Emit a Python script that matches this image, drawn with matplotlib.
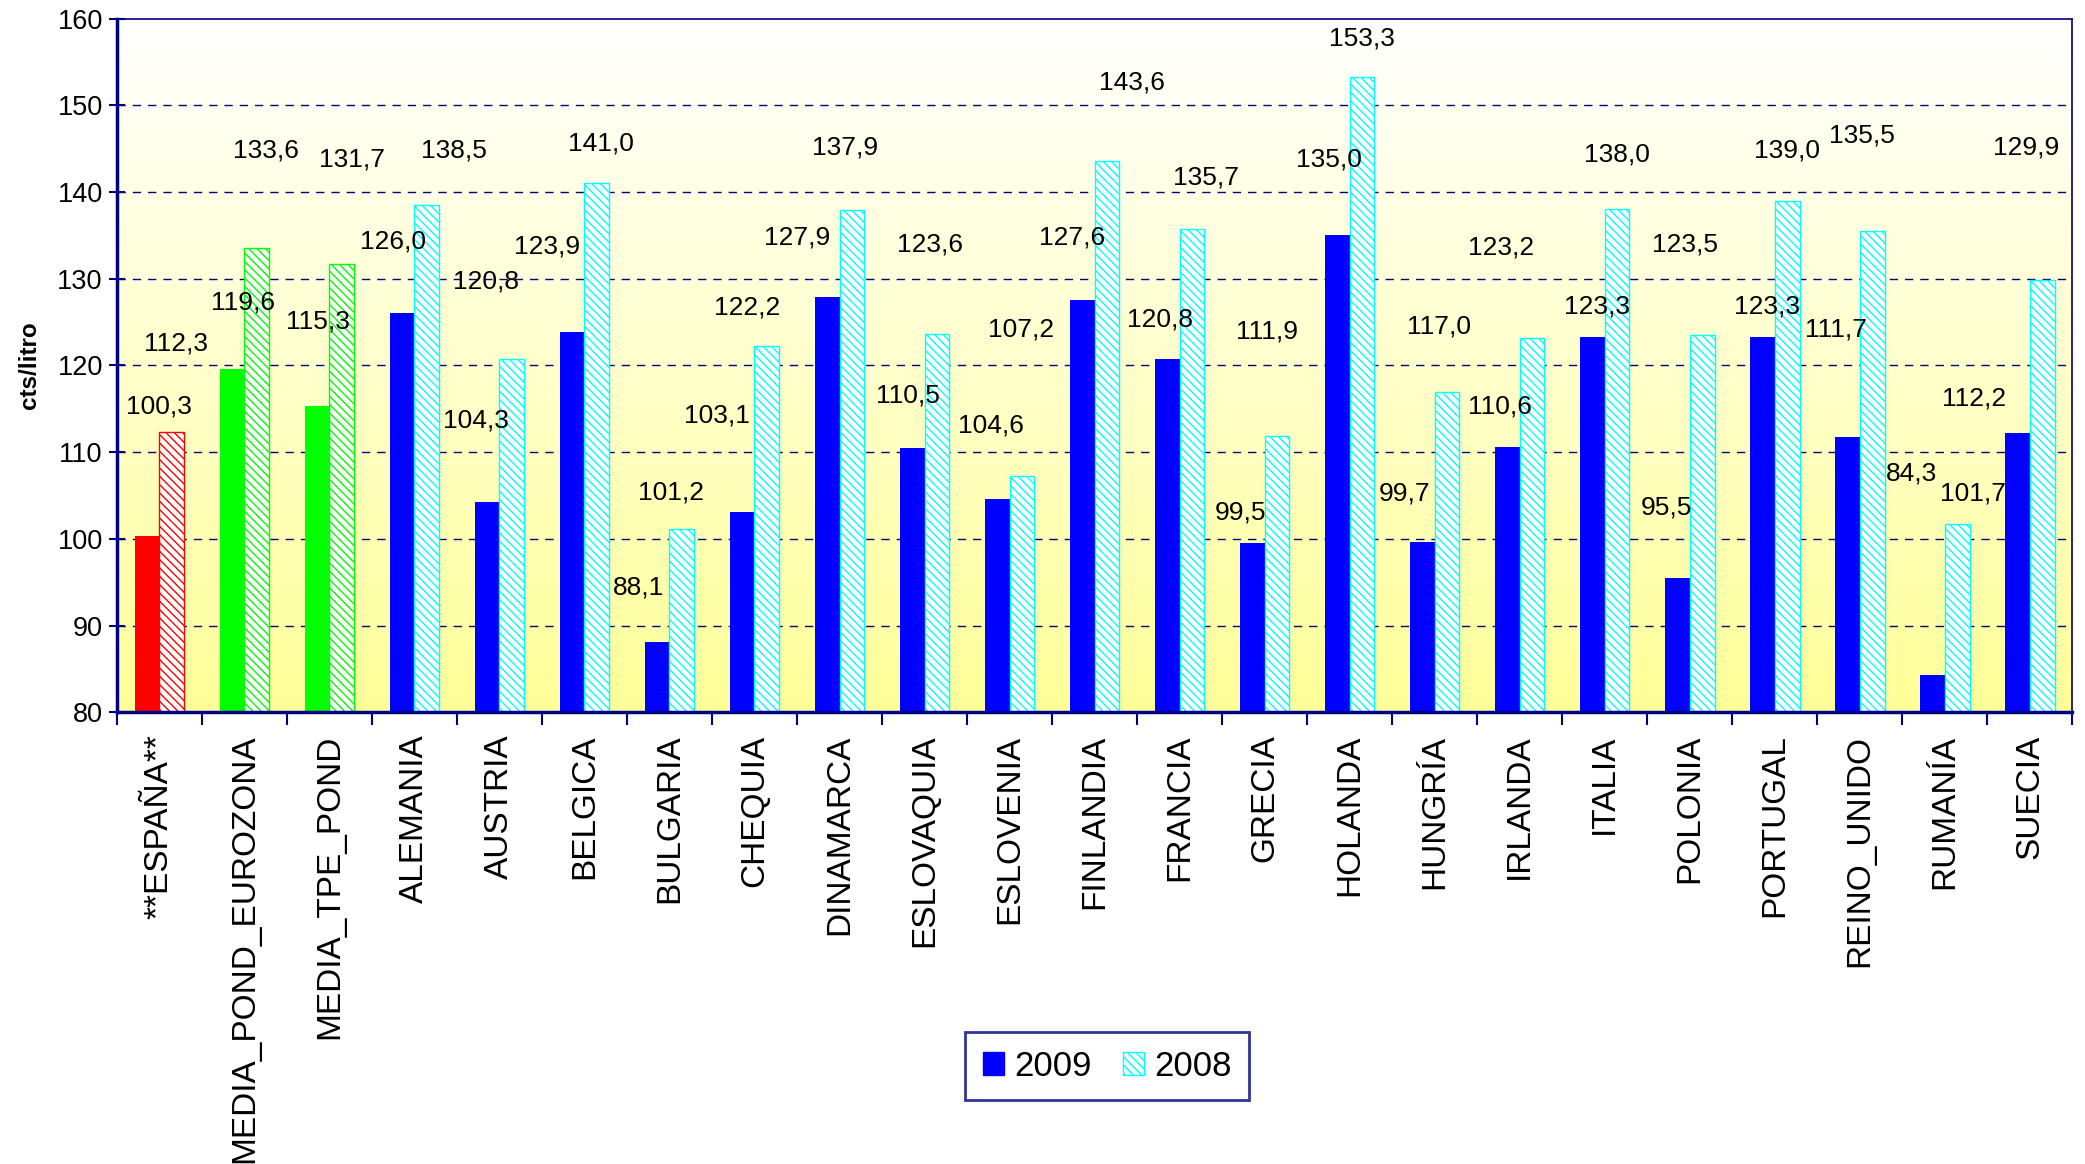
import numpy as np
import matplotlib
matplotlib.use('Agg')
import matplotlib.pyplot as plt
from matplotlib.patches import Patch

plt.rcParams['font.family'] = ['Liberation Sans', 'DejaVu Sans']
plt.rcParams['hatch.linewidth'] = 1.0

# datos
paises = ['**ESPAÑA**', 'MEDIA_POND_EUROZONA', 'MEDIA_TPE_POND', 'ALEMANIA', 'AUSTRIA',
          'BELGICA', 'BULGARIA', 'CHEQUIA', 'DINAMARCA', 'ESLOVAQUIA', 'ESLOVENIA',
          'FINLANDIA', 'FRANCIA', 'GRECIA', 'HOLANDA', 'HUNGRÍA', 'IRLANDA', 'ITALIA',
          'POLONIA', 'PORTUGAL', 'REINO_UNIDO', 'RUMANÍA', 'SUECIA']
v2009 = [100.3, 119.6, 115.3, 126.0, 104.3, 123.9, 88.1, 103.1, 127.9, 110.5, 104.6,
         127.6, 120.8, 99.5, 135.0, 99.7, 110.6, 123.3, 95.5, 123.3, 111.7, 84.3, 112.2]
v2008 = [112.3, 133.6, 131.7, 138.5, 120.8, 141.0, 101.2, 122.2, 137.9, 123.6, 107.2,
         143.6, 135.7, 111.9, 153.3, 117.0, 123.2, 138.0, 123.5, 139.0, 135.5, 101.7, 129.9]
series = ['2009', '2008']

# colores por grupo (España, medias, resto)
col = ['#ff0000', '#00ff00', '#00ff00'] + ['#0000ff'] * 20
col08 = ['#ff0000', '#00ff00', '#00ff00'] + ['#00ffff'] * 20

# posicion de las etiquetas (como quedaron movidas en el grafico original)
dx09 = [0.0, -0.02, -0.13, -0.25, -0.28, -0.44, -0.36, -0.44, -0.5, -0.2, -0.22, -0.27,
        -0.23, -0.28, -0.25, -0.36, -0.23, -0.09, -0.27, -0.09, -0.28, -0.39, -0.66]
dy09 = [15.0, 7.7, 9.8, 8.3, 9.3, 9.8, 6.3, 11.1, 6.9, 6.0, 8.5, 7.2, 4.5, 3.5, 8.7,
        5.5, 4.7, 3.5, 8.1, 3.5, 12.4, 23.2, 4.0]
dx08 = [0.2, 0.25, 0.27, 0.47, -0.16, 0.19, 0.02, -0.09, 0.06, 0.06, 0.13, 0.44, 0.31,
        0.03, 0.14, 0.05, -0.22, 0.14, -0.06, 0.14, 0.02, 0.33, -0.05]
dy08 = [10.2, 11.2, 12.0, 6.3, 8.9, 4.6, 4.1, 4.5, 7.2, 10.3, 17.0, 9.0, 6.0, 12.0, 4.4,
        7.5, 10.4, 6.3, 10.5, 5.8, 11.0, 3.5, 15.2]

navy = '#000080'
x = np.arange(len(paises))
w = 0.29

fig = plt.figure(figsize=(20.85, 11.64), dpi=100)
ax = fig.add_axes([0.056, 0.388, 0.938, 0.596])

# fondo degradado blanco -> amarillo
grad = np.linspace(0, 1, 256).reshape(-1, 1)
cmap = matplotlib.colors.LinearSegmentedColormap.from_list('bg', ['#ffffff', '#ffff99'])
ax.imshow(grad, aspect='auto', cmap=cmap, extent=[-0.5, len(paises) - 0.5, 80, 160],
          origin='upper', zorder=0)

for y in range(90, 160, 10):
    ax.axhline(y, color=navy, lw=1.0, ls=(0, (6, 5)), zorder=1)

ax.bar(x - w / 2, v2009, w, color=col, zorder=2, label=series[0])
ax.bar(x + w / 2, v2008, w, color='white', edgecolor=col08, hatch='\\\\\\\\',
       lw=1.0, zorder=2, label=series[1])

for i in range(len(paises)):
    ax.text(x[i] + dx09[i], v2009[i] + dy09[i], f'{v2009[i]:.1f}'.replace('.', ','),
            ha='center', va='center', fontsize=19, zorder=3)
    ax.text(x[i] + dx08[i], v2008[i] + dy08[i], f'{v2008[i]:.1f}'.replace('.', ','),
            ha='center', va='center', fontsize=19, zorder=3)

ax.set_xlim(-0.5, len(paises) - 0.5)
ax.set_ylim(80, 160)
ax.set_yticks(range(80, 161, 10))
ax.tick_params(axis='y', direction='inout', length=12, width=1.5, color=navy,
               labelsize=19.5, pad=4)
ax.set_xticks(x)
ax.set_xticklabels(paises, rotation=90, fontsize=24)
ax.set_xticks(np.arange(-0.5, len(paises)), minor=True)
ax.tick_params(axis='x', which='major', length=0, pad=16)
ax.tick_params(axis='x', which='minor', direction='out', length=9, width=1.5, color=navy)

for s in ['left', 'bottom']:
    ax.spines[s].set_color(navy)
    ax.spines[s].set_linewidth(2.5)
for s in ['top', 'right']:
    ax.spines[s].set_color(navy)
    ax.spines[s].set_linewidth(1.2)

ax.set_ylabel('cts/litro', fontsize=17.5, fontweight='bold', labelpad=12)

handles = [Patch(facecolor='#0000ff', edgecolor='#0000ff', label=series[0]),
           Patch(facecolor='white', edgecolor='#00ffff', hatch='\\\\\\\\', label=series[1])]
leg = fig.legend(handles=handles, loc='center', bbox_to_anchor=(0.531, 0.084), ncol=2,
                 fontsize=25, frameon=True, fancybox=False, handlelength=0.6,
                 handleheight=0.6, handletextpad=0.3, columnspacing=0.9,
                 borderpad=0.5, borderaxespad=0)
leg.get_frame().set_edgecolor(navy)
leg.get_frame().set_linewidth(2)

fig.savefig('out.png', dpi=100)
